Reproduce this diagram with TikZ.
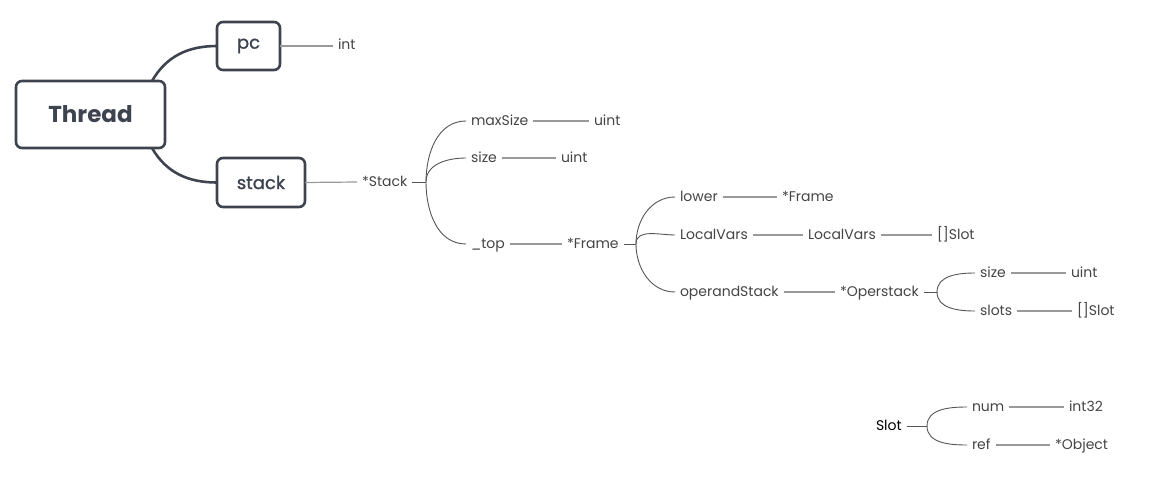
\documentclass[tikz,border=0pt]{standalone}
\usepackage{fontspec}
\setmainfont{Poppins}
\usetikzlibrary{positioning}
\definecolor{boxgray}{HTML}{3D4450}
\definecolor{txtgray}{HTML}{444444}
\definecolor{linegray}{HTML}{999999}
\definecolor{forkgray}{HTML}{555555}

\begin{document}
\begin{tikzpicture}[x=1pt,y=-1pt]
\tikzstyle{topic}=[rectangle, draw=boxgray, line width=2.6pt, rounded corners=6pt, text=boxgray,
        inner sep=0pt, outer sep=0pt, font=\fontsize{18}{20}\selectfont\addfontfeatures{FakeBold=1.2}]
\tikzstyle{field}=[anchor=west, inner sep=0pt, outer sep=5pt, text=txtgray, text height=11pt, text depth=3pt,
        font=\fontsize{14}{16}\selectfont]
\tikzstyle{trunk}=[line width=2.6pt, draw=boxgray]
\tikzstyle{link}=[line width=1.2pt, draw=linegray]
\tikzstyle{fork}=[line width=0.9pt, draw=forkgray]

\useasboundingbox (0,0) rectangle (1159,487);

    \node (thread) [topic, minimum width=149, minimum height=67, font=\fontsize{23}{25}\selectfont\bfseries]
            at (90.5,114.5) {Thread};
    \node (pc) [topic, minimum width=63, minimum height=48] at (248.5,46) {pc};
    \node (stack) [topic, minimum width=88, minimum height=49] at (261,182.5) {stack};

    \node (pcint) [field] at (333,46) {int};
    \node (stk) [field] at (357,182) {*Stack};

    \node (maxs) [field] at (466,121) {maxSize};
    \node (maxsint) [field] at (589,121) {uint};
    \node (size) [field] at (466,158) {size};
    \node (sizeint) [field] at (556,158) {uint};
    \node (top) [field] at (466,244) {\_top};
    \node (frm) [field] at (562,244) {*Frame};

    \node (lower) [field] at (675,197) {lower};
    \node (lowfrm) [field] at (777,197) {*Frame};
    \node (lvars) [field] at (675,235) {LocalVars};
    \node (lvtype) [field] at (803,235) {LocalVars};
    \node (lvslot) [field] at (932,235) {[]Slot};
    \node (ostack) [field] at (675,292) {operandStack};
    \node (ops) [field] at (835,292) {*Operstack};

    \node (osize) [field] at (975,273) {size};
    \node (osizeint) [field] at (1066,273) {uint};
    \node (oslots) [field] at (975,311) {slots};
    \node (oslotsslot) [field] at (1072,311) {[]Slot};

    \node (slot) [field, text=black] at (871,426) {Slot};
    \node (num) [field] at (967,407) {num};
    \node (numint) [field] at (1064,407) {int32};
    \node (ref) [field] at (967,445) {ref};
    \node (refobj) [field] at (1050,445) {*Object};

    \coordinate (stkfork) at (426,182);
    \coordinate (frmfork) at (636,244);
    \coordinate (opsfork) at (937,292);
    \coordinate (slotfork) at (927,426);

\draw[trunk] ([xshift=-13pt]thread.north east) to[out=60, in=180] (pc.west);
\draw[trunk] ([xshift=-13pt]thread.south east) to[out=-60, in=180] (stack.west);

\draw[link] (pc.east) -- (pcint.west);
\draw[link] (stack.east) -- (stk.west);
\draw[link] (maxs) -- (maxsint);
\draw[link] (size) -- (sizeint);
\draw[link] (top) -- (frm);
\draw[link] (lower) -- (lowfrm);
\draw[link] (lvars) -- (lvtype);
\draw[link] (lvtype) -- (lvslot);
\draw[link] (ostack) -- (ops);
\draw[link] (osize) -- (osizeint);
\draw[link] (oslots) -- (oslotsslot);
\draw[link] (num) -- (numint);
\draw[link] (ref) -- (refobj);

\draw[fork] (stk.east) -- (stkfork);
\draw[fork] (stkfork) to[out=90, in=180] (maxs.west);
\draw[fork] (stkfork) to[out=90, in=180] (size.west);
\draw[fork] (stkfork) to[out=-90, in=180] (top.west);

\draw[fork] (frm.east) -- (frmfork);
\draw[fork] (frmfork) to[out=90, in=180] (lower.west);
\draw[fork] (frmfork) to[out=90, in=180] (lvars.west);
\draw[fork] (frmfork) to[out=-90, in=180] (ostack.west);

\draw[fork] (ops.east) -- (opsfork);
\draw[fork] (opsfork) to[out=90, in=180] (osize.west);
\draw[fork] (opsfork) to[out=-90, in=180] (oslots.west);

\draw[fork] (slot.east) -- (slotfork);
\draw[fork] (slotfork) to[out=90, in=180] (num.west);
\draw[fork] (slotfork) to[out=-90, in=180] (ref.west);

\end{tikzpicture}
\end{document}
